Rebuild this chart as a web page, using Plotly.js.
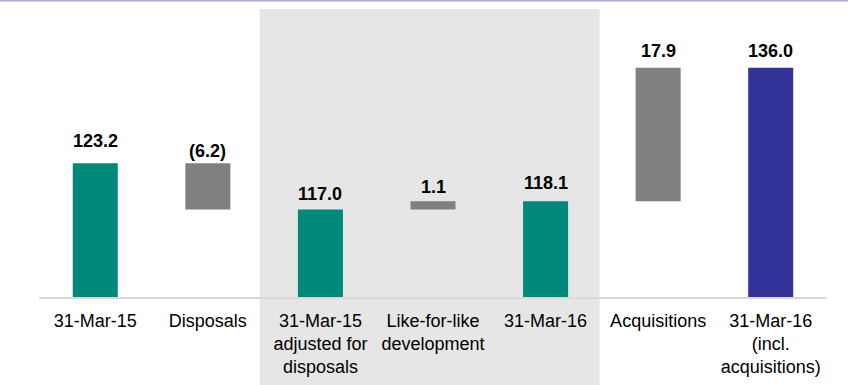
<!DOCTYPE html>
<html>
<head>
<meta charset="utf-8">
<script src="https://cdn.plot.ly/plotly-3.0.1.min.js"></script>
<style>
  html, body { margin: 0; padding: 0; background: #ffffff; }
  #chart { width: 848px; height: 385px; }
</style>
</head>
<body>
<div id="chart"></div>
<script>
// ---- Data ----
var categories = [
  "31-Mar-15",
  "Disposals",
  "31-Mar-15<br>adjusted for<br>disposals",
  "Like-for-like<br>development",
  "31-Mar-16",
  "Acquisitions",
  "31-Mar-16<br>(incl.<br>acquisitions)"
];
var values = [123.2, -6.2, 117.0, 1.1, 118.1, 17.9, 136.0];
var kinds = ["total", "delta", "total", "delta", "total", "delta", "total"];

// ---- Style ----
var barColors = ["#00897A", "#808080", "#00897A", "#808080", "#00897A", "#808080", "#333399"];
var labelGap = [15, 5, 8, 7, 11, 10, 10]; // px between bar top and label baseline
var FONT = "Arial, 'Liberation Sans', Helvetica, sans-serif";

// Build floating bars
var bases = [], heights = [], tops = [], labels = [];
var running = 0;
for (var i = 0; i < values.length; i++) {
  if (kinds[i] === "total") {
    running = values[i];
    bases.push(0);
    heights.push(values[i]);
    tops.push(values[i]);
  } else {
    var start = running;
    running = running + values[i];
    var lo = Math.min(start, running), hi = Math.max(start, running);
    bases.push(lo);
    heights.push(hi - lo);
    tops.push(hi);
  }
  labels.push(values[i] < 0 ? "(" + Math.abs(values[i]).toFixed(1) + ")" : values[i].toFixed(1));
}

var trace = {
  type: "bar",
  x: categories,
  y: heights,
  base: bases,
  width: 0.4,
  marker: { color: barColors, line: { width: 0 } },
  hoverinfo: "skip"
};

var annotations = categories.map(function (c, i) {
  return {
    x: c, y: tops[i], xref: "x", yref: "y",
    text: "<b>" + labels[i] + "</b>",
    showarrow: false,
    yanchor: "bottom",
    yshift: labelGap[i] - 5,
    font: { family: FONT, size: 18, color: "#000000" }
  };
});

// shaded band covering categories 2..4
var nCat = categories.length;
function paperX(v) { return (v + 0.5) / nCat; }

var layout = {
  width: 848, height: 385,
  margin: { l: 39, r: 21, t: 38, b: 88, pad: 0 },
  paper_bgcolor: "#ffffff",
  plot_bgcolor: "rgba(0,0,0,0)",
  showlegend: false,
  bargap: 0.6,
  xaxis: {
    type: "category",
    range: [-0.5, nCat - 0.5],
    showline: true, linecolor: "#d9d9d9", linewidth: 2,
    showgrid: false, zeroline: false, ticks: "",
    ticklabelstandoff: 6,
    tickfont: { family: FONT, size: 18, color: "#000000" },
    fixedrange: true
  },
  yaxis: {
    range: [105.25, 140],
    visible: false, showgrid: false, zeroline: false,
    fixedrange: true
  },
  shapes: [
    {
      type: "rect", layer: "below",
      xref: "paper", yref: "paper",
      x0: paperX(1.46), x1: paperX(4.48),
      y0: -0.4, y1: 1.112,
      fillcolor: "#e6e6e6", line: { width: 0 }
    },
    {
      type: "line", layer: "above",
      xref: "paper", yref: "paper",
      x0: -0.2, x1: 1.2, y0: 1.145, y1: 1.145,
      line: { color: "#aaaad8", width: 2 }
    }
  ],
  annotations: annotations,
  font: { family: FONT }
};

Plotly.newPlot("chart", [trace], layout, { staticPlot: true, displayModeBar: false });
</script>
</body>
</html>
